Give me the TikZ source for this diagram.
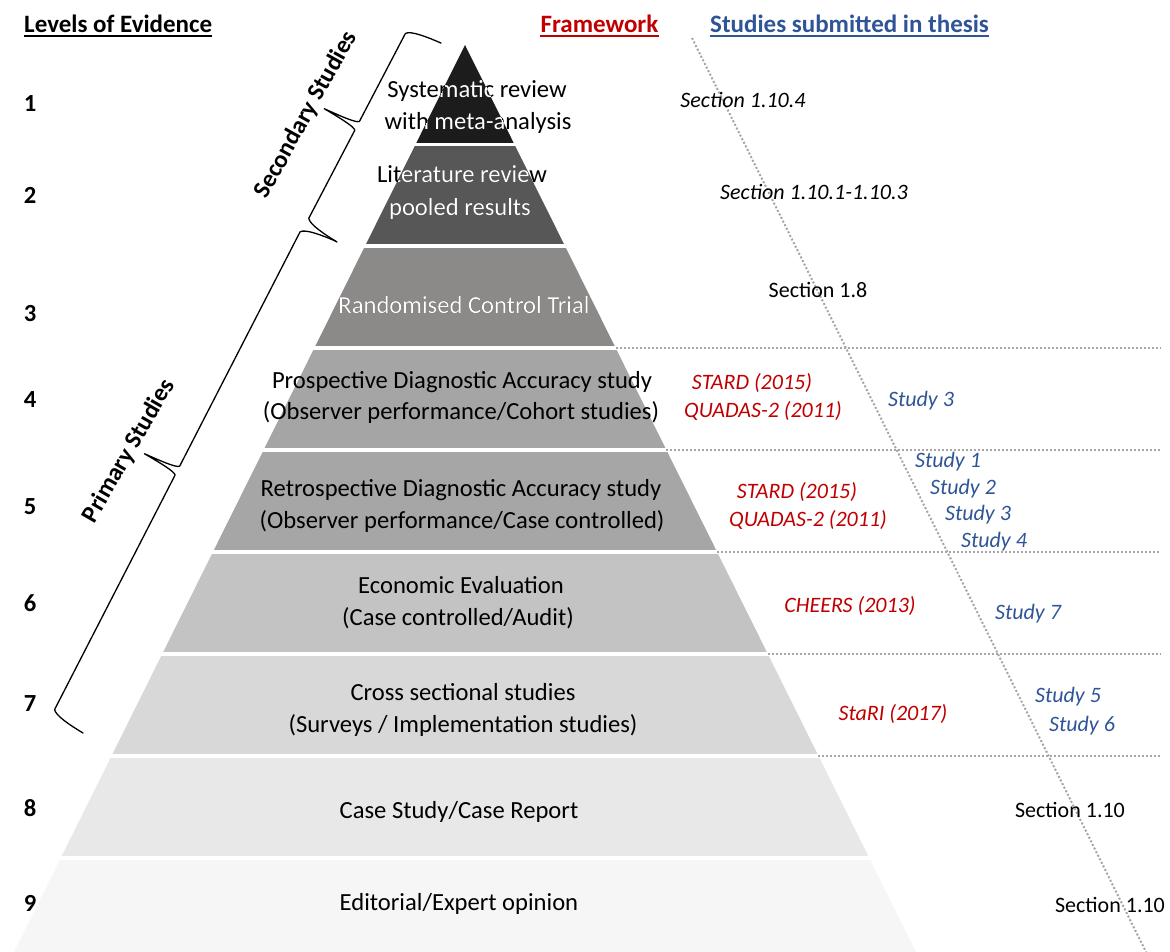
\documentclass[tikz,border=0pt]{standalone}
\usepackage{fontspec}
\setmainfont{Carlito}
\usetikzlibrary{calc}
\definecolor{evred}{HTML}{C00000}
\definecolor{evblue}{HTML}{2F5597}
\definecolor{dotgray}{HTML}{A6A6A6}
\definecolor{layA}{HTML}{1C1C1C}
\definecolor{layB}{HTML}{575757}
\definecolor{layC}{HTML}{8C8989}
\definecolor{layD}{HTML}{A5A5A5}
\definecolor{layE}{HTML}{A6A6A6}
\definecolor{layF}{HTML}{C3C3C3}
\definecolor{layG}{HTML}{D8D8D8}
\definecolor{layH}{HTML}{E8E8E8}
\definecolor{layI}{HTML}{F6F6F6}

% curly brace drawn in a local frame: start point, direction angle, length
\newcommand\evbrace[3]{%
  \draw[bracestyle, shift={(#1)}, rotate=#2, y=1pt]
    (0,0) .. controls (1,15) and (3,33) .. (8,36)
    -- ({#3/2-5},36) .. controls ({#3/2-2},38) and ({#3/2-1},55) .. ({#3/2},73)
    .. controls ({#3/2+1},55) and ({#3/2+2},38) .. ({#3/2+5},36)
    -- ({#3-8},36) .. controls ({#3-3},33) and ({#3-1},15) .. (#3,0);}

\begin{document}
\begin{tikzpicture}[x=1pt,y=-1pt,
  ptext/.style={inner sep=0pt, anchor=base, font=\fontsize{24.6}{29}\selectfont},
  wtext/.style={ptext, text=white},
  level/.style={inner sep=0pt, anchor=base, font=\fontsize{24.6}{29}\selectfont\bfseries},
  header/.style={inner sep=0pt, anchor=base, font=\fontsize{25}{30}\selectfont\bfseries},
  note/.style={inner sep=0pt, anchor=base, font=\fontsize{22}{26}\selectfont\itshape},
  plain/.style={inner sep=0pt, anchor=base, font=\fontsize{22}{26}\selectfont},
  fw/.style={note, text=evred},
  st/.style={note, text=evblue},
  dotline/.style={dotgray, line width=2pt, dash pattern=on 2pt off 2pt},
  bracestyle/.style={black, line width=1.3pt, line join=round, line cap=round},
  sidelabel/.style={inner sep=0pt, font=\fontsize{24.6}{29}\selectfont\bfseries}
]
\useasboundingbox (0,0) rectangle (1170,952);

% pyramid outline used for the bands
\def\pyr{(465,45) -- (14,952) -- (916,952) -- cycle}

% ---- pyramid bands ----
\begin{scope}
  \clip \pyr;
  \foreach \t/\b/\c in {45/143/layA, 146/244/layB, 248/346/layC, 350/448/layD,
                        452/550/layE, 554/652/layF, 656/754/layG, 758/856/layH,
                        860/952/layI}
    \fill[\c] (0,\t) rectangle (1170,\b);
\end{scope}

% ---- guide lines ----
\coordinate (g4a) at (615.6,348);  \coordinate (g4b) at (1160,348);
\coordinate (g5a) at (666.3,450);  \coordinate (g5b) at (1160,450);
\coordinate (g6a) at (717.0,552);  \coordinate (g6b) at (1160,552);
\coordinate (g7a) at (767.7,654);  \coordinate (g7b) at (1160,654);
\coordinate (g8a) at (818.4,756);  \coordinate (g8b) at (1160,756);
\coordinate (dtop) at (692,38);    \coordinate (dbot) at (1146,952);
\foreach \k in {4,5,6,7,8} \draw[dotline] (g\k a) -- (g\k b);
\draw[dotline] (dtop) -- (dbot);

% ---- headers ----
\node[header, anchor=base west] (hlev) at (24,33) {Levels of Evidence};
\node[header, text=evred] (hfw) at (599.5,33) {Framework};
\node[header, text=evblue] (hst) at (849.5,33) {Studies submitted in thesis};
\draw[line width=2pt] ($(hlev.base west)+(0,3.5)$) -- ($(hlev.base east)+(0,3.5)$);
\draw[line width=2pt, evred] ($(hfw.base west)+(0,3.5)$) -- ($(hfw.base east)+(0,3.5)$);
\draw[line width=2pt, evblue] ($(hst.base west)+(0,3.5)$) -- ($(hst.base east)+(0,3.5)$);

% ---- level numbers ----
\foreach \n/\y in {1/112, 2/204, 3/321, 4/407, 5/514, 6/611, 7/711, 8/816, 9/911}
  \node[level] (lev\n) at (30,\y) {\n};

% ---- pyramid texts ----
\node[ptext] (p1a) at (477,98)  {Systematic review};
\node[ptext] (p1b) at (478,130) {with meta-analysis};
\node[ptext] (p2a) at (462,183) {Literature review};
\node[ptext] (p2b) at (460,215) {pooled results};
\node[ptext] (p3)  at (464,313) {Randomised Control Trial};
\node[ptext] (p4a) at (462,388) {Prospective Diagnostic Accuracy study};
\node[ptext] (p4b) at (461,419) {(Observer performance/Cohort studies)};
\node[ptext] (p5a) at (461,496) {Retrospective Diagnostic Accuracy study};
\node[ptext] (p5b) at (462,528) {(Observer performance/Case controlled)};
\node[ptext] (p6a) at (461,593) {Economic Evaluation};
\node[ptext] (p6b) at (458,625) {(Case controlled/Audit)};
\node[ptext] (p7a) at (463,700) {Cross sectional studies};
\node[ptext] (p7b) at (463,732) {(Surveys / Implementation studies)};
\node[ptext] (p8)  at (459,818) {Case Study/Case Report};
\node[ptext] (p9)  at (459,910) {Editorial/Expert opinion};

% white lettering where the text lies on the dark bands
\begin{scope}
  \clip \pyr;
  \clip (0,45) rectangle (1170,143);
  \node[wtext] (w1a) at (477,98)  {Systematic review};
  \node[wtext] (w1b) at (478,130) {with meta-analysis};
\end{scope}
\begin{scope}
  \clip \pyr;
  \clip (0,146) rectangle (1170,244);
  \node[wtext] (w2a) at (462,183) {Literature review};
  \node[wtext] (w2b) at (460,215) {pooled results};
\end{scope}
\begin{scope}
  \clip \pyr;
  \clip (0,248) rectangle (1170,346);
  \node[wtext] (w3) at (464,313) {Randomised Control Trial};
\end{scope}

% ---- sections, frameworks and studies ----
\node[note]  (s1)  at (743,108) {Section 1.10.4};
\node[note]  (s2)  at (814,200) {Section 1.10.1-1.10.3};
\node[plain] (s3)  at (818,297) {Section 1.8};
\node[fw] (f4a) at (752,389) {STARD (2015)};
\node[fw] (f4b) at (763,417) {QUADAS-2 (2011)};
\node[st] (t4)  at (921,406) {Study 3};
\node[st] (t5a) at (948,467) {Study 1};
\node[st] (t5b) at (963,494) {Study 2};
\node[st] (t5c) at (978,520) {Study 3};
\node[st] (t5d) at (994,547) {Study 4};
\node[fw] (f5a) at (797,498) {STARD (2015)};
\node[fw] (f5b) at (808,526) {QUADAS-2 (2011)};
\node[fw] (f6)  at (850,612) {CHEERS (2013)};
\node[st] (t6)  at (1028,619) {Study 7};
\node[fw] (f7)  at (893,720) {StaRI (2017)};
\node[st] (t7a) at (1068,702) {Study 5};
\node[st] (t7b) at (1082,731) {Study 6};
\node[plain] (s8) at (1070,817) {Section 1.10};
\node[plain] (s9) at (1110,912) {Section 1.10};

% ---- braces for study groups ----
\coordinate (secA) at (337,242);
\coordinate (priA) at (83,733);
\evbrace{secA}{62.4}{224.5}
\evbrace{priA}{62.8}{553}
\node[sidelabel, rotate=61] (secl) at (306,115) {Secondary Studies};
\node[sidelabel, rotate=60] (pril) at (129,451) {Primary Studies};

\end{tikzpicture}
\end{document}
